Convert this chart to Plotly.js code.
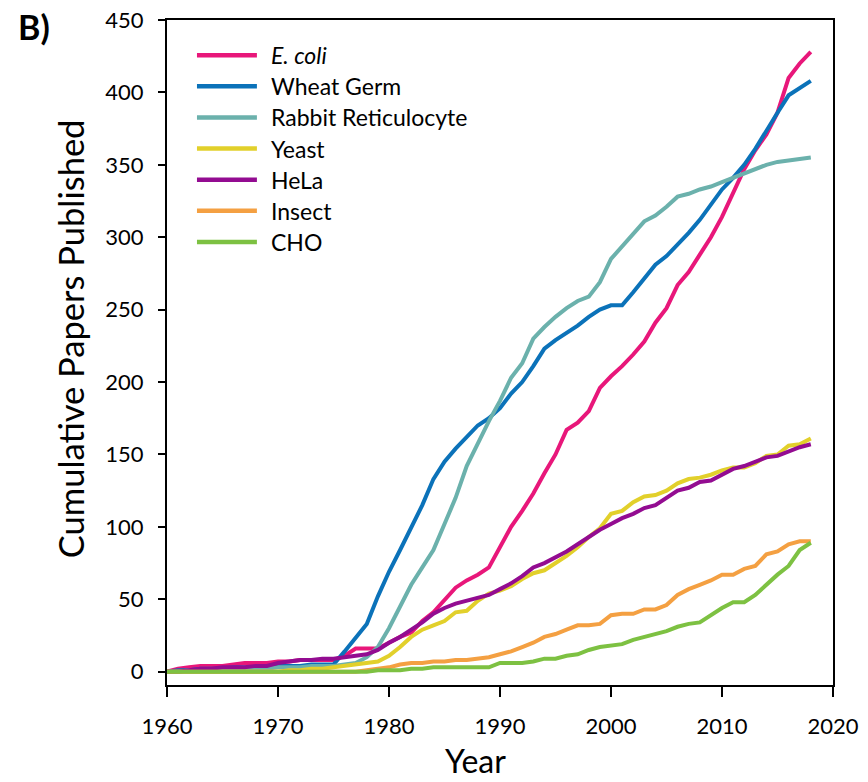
<!DOCTYPE html>
<html><head><meta charset="utf-8">
<script src="https://cdn.plot.ly/plotly-3.0.1.min.js"></script>
<style>html,body{margin:0;padding:0;background:#fff}#chart{width:868px;height:782px}</style>
</head><body><div id="chart"></div>
<script>
const years = [1960,1961,1962,1963,1964,1965,1966,1967,1968,1969,
  1970,1971,1972,1973,1974,1975,1976,1977,1978,1979,
  1980,1981,1982,1983,1984,1985,1986,1987,1988,1989,
  1990,1991,1992,1993,1994,1995,1996,1997,1998,1999,
  2000,2001,2002,2003,2004,2005,2006,2007,2008,2009,
  2010,2011,2012,2013,2014,2015,2016,2017,2018];

const ecoli = [0,2,3,4,4,4,5,6,6,6,7,7,8,8,8,8,11,16,16,16,
  20,24,27,35,41,50,58,63,67,72,86,100,111,123,137,150,167,172,180,196,
  204,211,219,228,241,251,267,276,288,300,314,331,347,360,371,386,410,420,428];
const wheatGerm = [0,1,1,2,2,2,3,3,3,3,4,4,4,5,5,5,14,24,33,52,
  69,84,100,115,133,145,154,162,170,175,182,192,200,211,223,229,234,239,245,250,
  253,253,262,272,281,287,295,303,312,322,333,341,350,361,374,386,398,403,408];
const rabbitReticulocyte = [0,0,1,1,1,1,2,2,2,2,3,3,3,4,4,4,5,6,10,17,
  30,45,60,72,84,102,120,142,158,173,187,203,213,230,238,245,251,256,259,269,
  285,294,303,311,315,321,328,330,333,335,338,341,344,347,350,352,353,354,355];
const yeast = [0,0,0,0,0,0,0,0,0,0,0,1,1,2,2,3,4,5,6,7,
  11,17,24,29,32,35,41,42,49,54,56,59,64,68,70,75,80,86,93,99,
  109,111,117,121,122,125,130,133,134,136,139,141,141,144,149,150,156,157,161];
const hela = [0,0,1,2,2,3,3,3,4,4,6,7,8,8,9,9,10,11,12,15,
  20,24,29,34,40,44,47,49,51,53,57,61,66,72,75,79,83,88,93,98,
  102,106,109,113,115,120,125,127,131,132,136,140,142,145,148,149,152,155,157];
const insect = [0,0,0,0,0,0,0,0,0,0,0,0,0,0,0,0,0,0,1,2,
  3,5,6,6,7,7,8,8,9,10,12,14,17,20,24,26,29,32,32,33,
  39,40,40,43,43,46,53,57,60,63,67,67,71,73,81,83,88,90,90];
const cho = [0,0,0,0,0,0,0,0,0,0,0,0,0,0,0,0,0,0,0,1,
  1,1,2,2,3,3,3,3,3,3,6,6,6,7,9,9,11,12,15,17,
  18,19,22,24,26,28,31,33,34,39,44,48,48,53,60,67,73,84,89];

const seriesNames = ['<i>E. coli</i>','Wheat Germ','Rabbit Reticulocyte','Yeast','HeLa','Insect','CHO'];
const seriesColors = ['#E8177A','#0B72B9','#6BB1AC','#E2D02B','#930C91','#F4A042','#7DC142'];
const seriesValues = [ecoli, wheatGerm, rabbitReticulocyte, yeast, hela, insect, cho];
const yTicks = [0,50,100,150,200,250,300,350,400,450];
const xTicks = [1960,1970,1980,1990,2000,2010,2020];
const xTitle = 'Year';
const yTitle = 'Cumulative Papers Published';

const FONT = 'Lato, Carlito, Calibri, sans-serif';

const traces = seriesNames.map((n, i) => ({
  x: years, y: seriesValues[i], type: 'scatter', mode: 'lines', name: n,
  line: {color: seriesColors[i], width: 4}, showlegend: false, hoverinfo: 'x+y+name'
}));

const legTop = 0.947, legStep = 0.0468;
const shapes = seriesNames.map((n, i) => ({
  type: 'line', xref: 'paper', yref: 'paper',
  x0: 0.045, x1: 0.135, y0: legTop - i * legStep, y1: legTop - i * legStep,
  line: {color: seriesColors[i], width: 4.5}
}));
const annotations = seriesNames.map((n, i) => ({
  xref: 'paper', yref: 'paper', x: 0.153, y: legTop - i * legStep,
  xanchor: 'left', yanchor: 'middle', showarrow: false, text: n,
  font: {family: FONT, size: 23, color: '#000'}
}));
annotations.push({
  xref: 'paper', yref: 'paper', x: -0.226, y: 0.99, xanchor: 'left', yanchor: 'middle',
  showarrow: false, text: '<b>B)</b>', font: {family: FONT, size: 34, color: '#000'}
});
annotations.push({
  xref: 'paper', yref: 'paper', x: 0.4625, y: -0.114, xanchor: 'center', yanchor: 'middle',
  showarrow: false, text: xTitle, font: {family: FONT, size: 32, color: '#000'}
});
annotations.push({
  xref: 'paper', yref: 'paper', x: -0.1456, y: 0.52, xanchor: 'center', yanchor: 'middle',
  textangle: -90, showarrow: false, text: yTitle, font: {family: FONT, size: 34.5, color: '#000'}
});

const layout = {
  width: 868, height: 782,
  margin: {l: 167, r: 35, t: 20, b: 97},
  paper_bgcolor: '#fff', plot_bgcolor: '#fff',
  font: {family: FONT, color: '#000'},
  showlegend: false,
  xaxis: {
    range: [1960, 2020], tickvals: xTicks, ticks: 'outside', ticklen: 10, tickwidth: 2,
    tickcolor: '#000', showline: true, linewidth: 2, linecolor: '#000', mirror: true,
    showgrid: false, zeroline: false, tickfont: {family: FONT, size: 22, color: '#000'},
    ticklabelstandoff: 11
  },
  yaxis: {
    range: [-9.2, 450], tickvals: yTicks, ticks: 'outside', ticklen: 7, tickwidth: 2,
    tickcolor: '#000', showline: true, linewidth: 2, linecolor: '#000', mirror: true,
    showgrid: false, zeroline: false, tickfont: {family: FONT, size: 22, color: '#000'},
    ticklabelstandoff: 10
  },
  shapes: shapes,
  annotations: annotations
};

Plotly.newPlot('chart', traces, layout, {displayModeBar: false, staticPlot: true});
</script>
</body></html>
